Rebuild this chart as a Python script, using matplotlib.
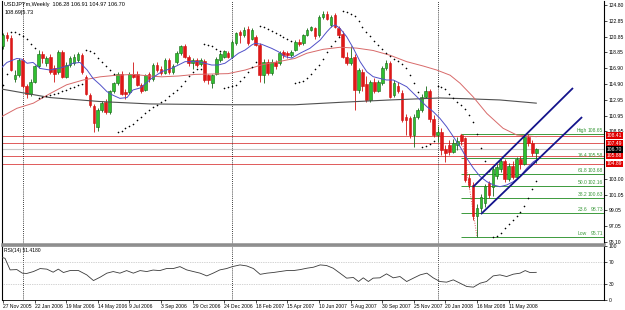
import matplotlib
matplotlib.use('Agg')
import matplotlib.pyplot as plt
import matplotlib.transforms as mtrans
import numpy as np

plt.rcParams['font.family'] = ['Liberation Sans', 'DejaVu Sans']

# ---------------- data (weekly USDJPY) ----------------
opens = [119.6, 121.1, 120.7, 115.5, 116.0, 117.9, 114.6, 113.7, 115.2, 117.1,
         118.7, 117.5, 118.3, 116.9, 116.4, 118.9, 115.8, 117.3, 117.5, 117.9,
         118.5, 115.8, 113.5, 112.1, 109.5, 111.6, 112.7, 111.4, 114.0, 115.0,
         116.2, 113.9, 113.9, 116.2, 116.2, 114.8, 114.2, 116.2, 115.5, 117.3,
         116.8, 116.3, 117.9, 116.4, 117.7, 118.8, 119.6, 118.3, 117.5, 117.9,
         117.4, 117.8, 116.0, 115.0, 116.2, 117.9, 118.3, 118.8, 118.3, 120.0,
         121.4, 121.0, 121.8, 120.6, 120.8, 119.8, 116.0, 117.6, 116.3, 117.7,
         117.5, 118.9, 118.8, 118.5, 119.2, 120.2, 120.0, 121.1, 121.7, 121.9,
         121.0, 123.3, 123.7, 122.3, 123.5, 121.9, 121.2, 118.3, 117.5, 118.3,
         114.1, 116.4, 114.9, 112.9, 115.2, 114.0, 115.0, 116.9, 117.5, 113.5,
         114.6, 113.8, 110.8, 110.6, 108.5, 110.8, 111.6, 113.3, 114.0, 110.5,
         108.5, 108.9, 106.8, 107.3, 106.4, 107.3, 108.5, 108.1, 103.1, 102.3,
         98.3, 99.4, 100.0, 102.5, 102.0, 103.4, 104.3, 105.3, 103.0, 104.6,
         103.3, 105.5, 104.9, 108.3, 107.5, 106.28]
highs = [121.3, 121.4, 121.0, 116.6, 118.2, 118.1, 114.9, 115.5, 117.3, 119.1,
         119.0, 118.4, 118.6, 117.3, 119.2, 119.1, 117.6, 118.4, 118.6, 118.9,
         118.8, 116.0, 113.8, 112.4, 111.9, 112.8, 113.0, 114.2, 115.2, 116.4,
         116.5, 114.3, 116.4, 117.7, 116.5, 115.0, 116.2, 116.4, 117.5, 117.6,
         117.2, 118.2, 118.1, 117.4, 119.0, 119.8, 119.9, 118.5, 118.2, 118.1,
         118.1, 118.0, 116.2, 116.2, 118.3, 118.9, 119.2, 119.0, 120.4, 121.4,
         121.7, 122.0, 122.2, 121.9, 121.0, 120.0, 118.0, 118.0, 118.0, 117.9,
         119.0, 119.2, 119.0, 119.1, 120.4, 120.5, 121.2, 121.9, 122.2, 122.1,
         123.5, 124.1, 124.0, 123.6, 123.8, 122.2, 121.6, 118.9, 119.6, 118.6,
         116.9, 116.8, 115.9, 115.4, 115.6, 115.4, 117.1, 117.9, 117.8, 115.4,
         115.1, 114.2, 111.2, 110.9, 111.1, 111.9, 113.6, 114.7, 114.3, 111.0,
         109.6, 109.4, 107.2, 107.9, 108.0, 108.3, 108.65, 108.3, 103.6, 102.6,
         99.8, 101.1, 102.4, 102.8, 104.6, 104.9, 105.6, 105.5, 105.0, 105.2,
         105.7, 105.9, 108.4, 108.65, 107.9, 106.91]
lows = [119.3, 120.3, 116.5, 115.2, 115.8, 114.4, 113.2, 113.4, 115.0, 116.9,
        117.5, 117.2, 116.2, 115.2, 116.2, 115.6, 115.6, 117.0, 117.3, 117.7,
        116.2, 113.5, 112.0, 108.9, 109.0, 111.4, 111.1, 111.2, 113.8, 114.8,
        113.5, 113.0, 113.7, 115.6, 114.6, 113.8, 114.0, 115.2, 115.3, 116.4,
        116.0, 116.1, 116.2, 116.2, 117.4, 118.5, 118.1, 117.2, 116.8, 117.0,
        117.2, 115.2, 114.9, 114.4, 116.0, 117.7, 118.1, 118.1, 118.1, 119.8,
        120.0, 120.8, 119.8, 120.4, 119.6, 115.1, 115.0, 116.0, 116.0, 116.8,
        117.3, 118.2, 118.2, 118.3, 119.0, 119.6, 119.8, 120.9, 121.5, 120.6,
        120.8, 123.0, 122.9, 122.0, 121.9, 120.8, 118.1, 117.3, 117.3, 111.6,
        113.8, 114.0, 112.6, 112.7, 113.8, 113.9, 114.8, 116.6, 113.1, 113.3,
        113.8, 110.1, 108.5, 108.1, 107.0, 110.5, 111.4, 113.1, 110.2, 108.3,
        107.6, 106.0, 105.1, 106.0, 106.2, 106.6, 107.2, 102.6, 101.9, 97.9,
        95.73, 98.9, 99.5, 100.6, 100.9, 103.0, 103.9, 102.6, 102.8, 103.0,
        103.1, 104.3, 104.7, 107.1, 105.9, 104.97]
closes = [121.0, 120.7, 116.7, 116.0, 117.9, 114.6, 113.7, 115.2, 117.1, 118.7,
          118.1, 118.1, 116.4, 116.2, 118.9, 115.8, 117.3, 118.1, 118.3, 118.7,
          116.4, 113.7, 112.3, 110.0, 111.6, 112.5, 111.4, 114.0, 115.0, 116.2,
          113.7, 113.7, 116.2, 115.8, 114.8, 114.0, 116.0, 115.5, 117.3, 116.7,
          116.3, 117.9, 116.4, 117.2, 118.8, 119.6, 118.3, 117.5, 117.9, 117.3,
          117.9, 115.4, 115.4, 116.0, 118.0, 118.7, 119.0, 118.3, 120.2, 121.25,
          121.0, 121.7, 120.0, 121.7, 119.8, 116.0, 117.7, 116.3, 117.7, 117.2,
          118.75, 118.5, 118.5, 118.9, 120.2, 119.9, 121.05, 121.7, 122.0, 120.9,
          123.3, 123.7, 123.1, 123.3, 122.1, 121.0, 118.3, 117.5, 118.1, 114.1,
          116.6, 114.6, 112.9, 115.2, 114.0, 115.1, 116.9, 117.5, 113.3, 115.0,
          114.0, 110.4, 110.4, 108.5, 110.8, 111.6, 113.3, 114.0, 110.5, 108.5,
          108.9, 106.6, 106.2, 106.4, 107.5, 107.7, 107.7, 102.9, 102.3, 98.3,
          99.4, 100.8, 102.1, 101.0, 104.3, 104.5, 105.3, 103.0, 104.6, 103.3,
          105.5, 104.9, 108.3, 107.5, 106.2, 106.70]

date_labels = ["27 Nov 2005", "22 Jan 2006", "19 Mar 2006", "14 May 2006", "9 Jul 2006",
               "3 Sep 2006", "29 Oct 2006", "24 Dec 2006", "18 Feb 2007", "15 Apr 2007",
               "10 Jun 2007", "5 Aug 2007", "30 Sep 2007", "25 Nov 2007", "20 Jan 2008",
               "16 Mar 2008", "11 May 2008"]
date_label_bars = list(range(0, 129, 8))
year_separator_bars = [5, 58, 110]

# moving averages (bar, price)
ma_fast_bars = [-0.76, 1.0, 3.5, 4.8, 6.1, 7.6, 9.4, 11.9, 14.4, 16.2, 17.7, 19.5, 21.3, 22.8,
                24.6, 26.3, 27.8, 29.6, 31.4, 32.9, 34.7, 36.2, 37.6, 40.2, 42.7, 44.4, 46.1,
                47.8, 49.4, 51.1, 52.8, 54.5, 56.2, 57.9, 59.6, 61.3, 63.0, 63.8, 65.5, 68.0,
                69.7, 71.4, 73.1, 75.2, 77.7, 80.3, 82.0, 83.2, 84.1, 85.3, 87.0, 88.7, 90.4,
                92.1, 93.7, 95.4, 97.1, 98.8, 100.5, 102.2, 103.9, 105.6, 107.3, 108.9, 110.6,
                112.3, 114.0, 115.7, 117.4, 119.1, 120.8, 122.5, 124.2, 125.8, 127.5, 129.2,
                130.9, 132.6, 134.3, 135.0]
ma_fast_vals = [116.75, 117.6, 118.1, 118.0, 117.5, 117.6, 116.85, 116.65, 116.9, 117.15, 117.5,
                117.6, 116.65, 115.6, 114.8, 113.95, 113.5, 113.1, 113.2, 114.15, 114.4, 115.0,
                115.6, 116.45, 116.87, 117.28, 117.7, 117.7, 117.7, 117.5, 117.28, 117.28, 117.5,
                118.1, 118.75, 119.16, 119.8, 120.0, 119.87, 119.37, 118.95, 118.33, 118.15,
                118.75, 119.37, 120.41, 121.45, 122.08, 122.3, 121.88, 120.83, 119.37, 117.7,
                116.44, 115.82, 115.6, 115.4, 115.4, 114.99, 114.56, 113.73, 112.9, 112.06,
                111.44, 110.6, 109.55, 108.3, 107.05, 105.6, 104.34, 103.3, 102.66, 102.24,
                102.03, 102.24, 102.66, 103.3, 104.34, 105.17, 105.38]
ma_mid_bars = [-0.76, 3.5, 7.7, 11.9, 16.1, 20.3, 24.6, 28.8, 33.0, 37.2, 40.2, 44.4, 48.6,
               52.8, 57.0, 61.3, 65.5, 69.7, 73.9, 76.9, 81.1, 85.3, 89.5, 93.7, 98.0, 102.2,
               106.4, 109.8, 113.2, 115.7, 119.0, 122.5, 126.6, 130.1, 135.0]
ma_mid_vals = [110.7, 111.85, 112.5, 113.7, 114.8, 115.4, 115.8, 116.0, 116.1, 115.9, 115.8,
               115.9, 116.1, 116.15, 116.2, 116.65, 117.3, 117.7, 118.1, 118.75, 119.25, 119.5,
               119.4, 119.1, 118.5, 117.7, 117.15, 116.65, 116.0, 115.0, 113.3, 111.2, 109.35,
               108.5, 108.3]
ma_slow_bars = [-0.76, 11.9, 24.6, 37.2, 57.0, 73.9, 85.3, 98.0, 110.6, 117.5, 125.8, 135.0]
ma_slow_vals = [114.3, 113.2, 112.7, 112.4, 112.3, 112.3, 112.6, 112.9, 113.15, 113.05, 112.9, 112.5]

# parabolic SAR seed state at first bar
sar_seed = 114.8
sar_seed_ep = 121.3
sar_seed_af = 0.2

# RSI(14) (bar, value)
rsi_bars = [-0.76, 0.5, 1.8, 3.5, 4.9, 6.0, 7.7, 9.4, 11.1, 12.7, 14.0, 15.3, 17.0, 19.1, 21.2,
            22.9, 24.6, 26.3, 27.9, 29.6, 31.3, 33.0, 34.7, 36.4, 38.0, 39.7, 41.4, 43.1, 44.8,
            46.5, 48.2, 49.9, 51.6, 53.2, 54.9, 56.6, 58.0, 60.0, 61.7, 63.4, 65.1, 66.8, 68.4,
            70.1, 71.8, 73.5, 75.2, 76.9, 78.6, 80.3, 81.9, 83.6, 85.3, 87.0, 88.7, 90.0, 91.2,
            92.5, 93.7, 95.4, 97.1, 98.8, 100.5, 102.2, 103.9, 105.6, 107.3, 108.9, 110.6, 112.3,
            114.0, 115.7, 117.4, 119.1, 120.8, 122.4, 124.1, 125.8, 127.5, 129.2, 130.9, 132.2,
            133.4, 135.0]
rsi_vals = [80.0, 77.7, 56.0, 56.6, 49.9, 49.3, 52.9, 58.5, 57.4, 51.7, 57.4, 51.1, 54.8, 54.8,
            46.7, 36.1, 42.4, 49.9, 52.9, 49.9, 54.7, 49.9, 54.7, 52.9, 55.7, 54.7, 58.5, 58.5,
            62.1, 56.0, 52.9, 49.9, 44.8, 49.9, 56.0, 58.5, 62.0, 65.3, 63.4, 58.5, 47.7, 49.9,
            51.1, 52.9, 54.7, 54.7, 56.5, 59.1, 61.0, 65.3, 64.2, 59.1, 49.9, 40.6, 41.8, 34.3,
            41.2, 34.3, 40.6, 41.2, 48.6, 41.2, 43.6, 34.3, 40.6, 46.7, 49.9, 41.2, 34.3, 33.1,
            37.4, 31.2, 25.0, 23.8, 31.2, 34.3, 44.8, 46.7, 43.6, 48.0, 49.9, 54.7, 51.1, 51.4]

# horizontal levels
red_levels = [108.41, 107.49, 105.88, 104.89]
last_price = 106.70
fib_start_bar = 116
fib_levels = [108.65, 105.58, 103.68, 102.16, 100.63, 98.73, 95.71]
fib_names = ["High", "76.4", "61.8", "50.0", "38.2", "23.6", "Low"]
fib_line_bars = [116, 120]
fib_line_prices = [108.65, 95.73]

# channel trendlines (bar, price)
chan_up_bars = [119.0, 144.3]
chan_up_prices = [102.0, 114.4]
chan_lo_bars = [121.0, 146.6]
chan_lo_prices = [98.6, 110.76]

price_ticks = [124.80, 122.85, 120.85, 118.85, 116.90, 114.90, 112.95, 110.95, 108.95,
               103.00, 101.05, 99.05, 97.05, 95.10]
rsi_ticks = [0, 30, 70, 100]

header1 = "USDJPYm,Weekly  106.28 106.91 104.97 106.70"
header2 = "108.69|5.73"
rsi_title = "RSI(14) 51.4180"


def parabolic_sar(h, l, s0, ep0, af0, step=0.02, amax=0.2):
    n = len(h)
    sar = np.zeros(n)
    sar[0] = s0
    up = True
    ep = ep0
    af = af0
    for i in range(1, n):
        s = sar[i - 1] + af * (ep - sar[i - 1])
        if up:
            s = min(s, l[i - 1], l[i - 2] if i >= 2 else l[i - 1])
            if l[i] < s:
                up = False
                s = ep
                ep = l[i]
                af = step
            elif h[i] > ep:
                ep = h[i]
                af = min(af + step, amax)
        else:
            s = max(s, h[i - 1], h[i - 2] if i >= 2 else h[i - 1])
            if h[i] > s:
                up = True
                s = ep
                ep = h[i]
                af = step
            elif l[i] < ep:
                ep = l[i]
                af = min(af + step, amax)
        sar[i] = s
    return sar


# ---------------- figure ----------------
W, H = 625, 310
fig = plt.figure(figsize=(W / 100, H / 100), dpi=100)
fig.patch.set_facecolor('white')

def px_box(x0, y0, x1, y1):
    return [x0 / W, 1 - y1 / H, (x1 - x0) / W, (y1 - y0) / H]

ax = fig.add_axes(px_box(2, 1, 604, 244))
ax2 = fig.add_axes(px_box(2, 246, 604, 300))

xl = (-0.253, 152.15)
ax.set_xlim(*xl)
ax2.set_xlim(*xl)
ax.set_ylim(94.85, 125.30)
ax2.set_ylim(-0.2, 100.6)

n = len(closes)
x = np.arange(n)
o = np.array(opens); c = np.array(closes); hi = np.array(highs); lo = np.array(lows)
bull = c >= o

# horizontal levels
for lv in red_levels:
    ax.axhline(lv, color='#e05a5a', lw=0.7, zorder=1)
ax.axhline(last_price, color='#c8c8c8', lw=0.8, zorder=1)

# fib levels
for lv in fib_levels:
    ax.hlines(lv, fib_start_bar, xl[1], color='#3c9a3c', lw=0.7, zorder=1)
ax.plot(fib_line_bars, fib_line_prices, color='#e05a5a', lw=0.7, ls=(0, (1, 1.5)), zorder=2)

# candles
green_face, green_edge = '#2fbf2f', '#156615'
red_face, red_edge = '#e01818', '#d01010'
ax.vlines(x[bull], lo[bull], hi[bull], color=green_edge, lw=0.6, zorder=3)
ax.vlines(x[~bull], lo[~bull], hi[~bull], color=red_edge, lw=0.6, zorder=3)
body_lo = np.minimum(o, c)
body_h = np.maximum(np.abs(c - o), 0.08)
ax.bar(x[bull], body_h[bull], bottom=body_lo[bull], width=0.66, color=green_face,
       edgecolor=green_edge, linewidth=0.4, zorder=3.5)
ax.bar(x[~bull], body_h[~bull], bottom=body_lo[~bull], width=0.66, color=red_face,
       edgecolor=red_edge, linewidth=0.4, zorder=3.5)

# moving averages
ax.plot(ma_slow_bars, ma_slow_vals, color='#505050', lw=0.8, zorder=4)
ax.plot(ma_mid_bars, ma_mid_vals, color='#d86a6a', lw=0.7, zorder=4)
ax.plot(ma_fast_bars, ma_fast_vals, color='#5050c8', lw=0.7, zorder=4)

# parabolic SAR
sar = parabolic_sar(hi, lo, sar_seed, sar_seed_ep, sar_seed_af)
ax.scatter(x, sar, s=1.4, color='black', linewidths=0, zorder=5)

# channel
ax.plot(chan_up_bars, chan_up_prices, color='#14148c', lw=1.3, zorder=6, solid_capstyle='butt')
ax.plot(chan_lo_bars, chan_lo_prices, color='#14148c', lw=1.3, zorder=6, solid_capstyle='butt')

# year separators
for b in year_separator_bars:
    ax.axvline(b, color='black', lw=0.6, ls=(0, (1, 1.5)), zorder=2)
    ax2.axvline(b, color='black', lw=0.6, ls=(0, (1, 1.5)), zorder=2)

# RSI
ax2.axhline(70, color='#a8a8a8', lw=0.5, ls=(0, (1, 1.5)))
ax2.axhline(30, color='#a8a8a8', lw=0.5, ls=(0, (1, 1.5)))
ax2.plot(rsi_bars, rsi_vals, color='#3a3a3a', lw=0.6, zorder=3)

fs = 3.6
# axes styling
for a in (ax, ax2):
    a.set_facecolor('white')
    a.yaxis.tick_right()
    a.tick_params(axis='y', length=2, width=0.5, pad=1.5, labelsize=fs, colors='black')
    a.spines['right'].set_color('black')
    a.spines['right'].set_linewidth(0.8)
    a.spines['left'].set_color('black')
    a.spines['left'].set_linewidth(0.8)
    a.spines['top'].set_visible(False)

ax.spines['bottom'].set_color('#8c8c8c')
ax.spines['bottom'].set_linewidth(1.8)
ax2.spines['top'].set_visible(True)
ax2.spines['top'].set_color('#8c8c8c')
ax2.spines['top'].set_linewidth(1.2)
ax2.spines['bottom'].set_color('black')
ax2.spines['bottom'].set_linewidth(0.6)

ax.set_yticks(price_ticks)
ax.set_yticklabels([f"{t:.2f}" for t in price_ticks])
ax.set_xticks([])
ax2.set_yticks(rsi_ticks)
ax2.set_yticklabels([str(t) for t in rsi_ticks])
ax2.set_xticks(date_label_bars)
ax2.set_xticklabels(date_labels, ha='left', fontsize=fs)
ax2.tick_params(axis='x', length=2, width=0.5, pad=1.0)

# price tags on axis
trans = mtrans.blended_transform_factory(ax.transAxes, ax.transData)
for lv in red_levels:
    ax.text(1.004, lv, f"{lv:.2f}", transform=trans, ha='left', va='center', fontsize=fs,
            color='white', clip_on=False, zorder=10,
            bbox=dict(facecolor='#e00000', edgecolor='none', pad=0.6))
ax.text(1.004, last_price, f"{last_price:.2f}", transform=trans, ha='left', va='center',
        fontsize=fs, color='white', clip_on=False, zorder=10,
        bbox=dict(facecolor='black', edgecolor='none', pad=0.6))

# fib labels
for lv, nm in zip(fib_levels, fib_names):
    ax.text(151.9, lv + 0.08, f"{lv:.2f}", ha='right', va='bottom', fontsize=fs,
            color='#3c9a3c', zorder=7)
    ax.text(147.9, lv + 0.08, nm, ha='right', va='bottom', fontsize=fs,
            color='#3c9a3c', zorder=7)

# headers
hfs = 4.0
ax.text(0.004, 0.995, header1, transform=ax.transAxes, ha='left', va='top', fontsize=hfs,
        color='black', zorder=10)
ax.text(0.004, 0.965, header2, transform=ax.transAxes, ha='left', va='top', fontsize=hfs,
        color='black', zorder=10)
ax2.text(0.004, 0.96, rsi_title, transform=ax2.transAxes, ha='left', va='top', fontsize=fs,
         color='black', zorder=10)

fig.savefig('out.png', dpi=100, facecolor='white')
